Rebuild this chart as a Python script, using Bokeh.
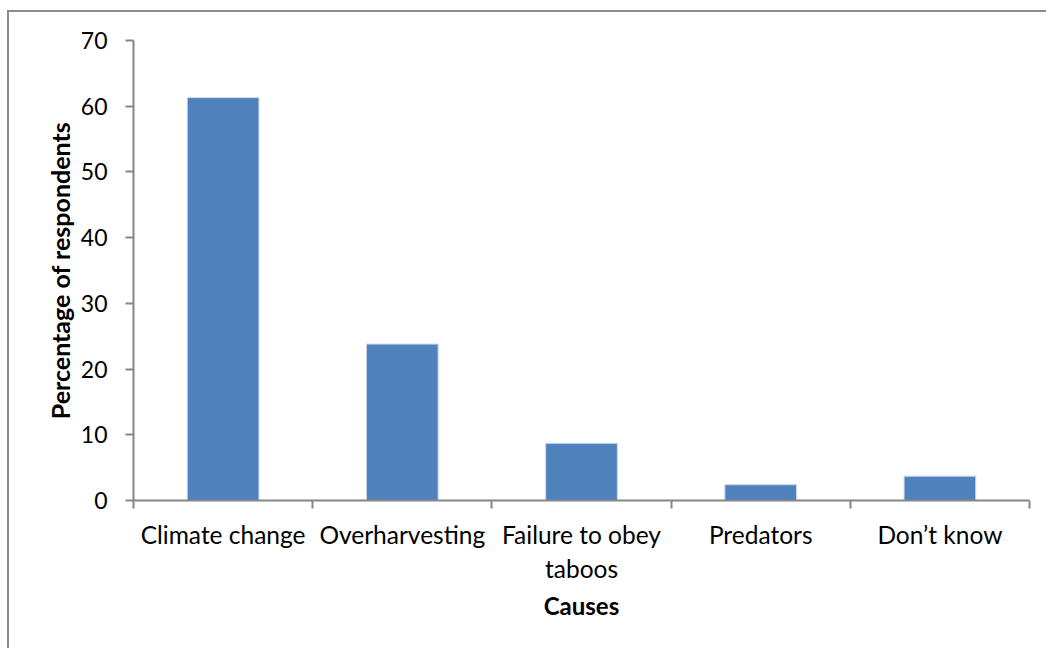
from bokeh.plotting import figure
from bokeh.models import Range1d, FixedTicker
from bokeh.embed import file_html
from bokeh.resources import INLINE

# Perceived causes and share of respondents (%)
causes = ["Climate change", "Overharvesting", "Failure to obey\ntaboos", "Predators", "Don\u2019t know"]
percent = [61.3, 23.8, 8.7, 2.4, 3.7]
y_ticks = [0, 10, 20, 30, 40, 50, 60, 70]

FONT = "Lato"
AXIS_GREY = "#868686"

centers = [i + 0.5 for i in range(len(causes))]
edges = list(range(len(causes) + 1))

p = figure(
    width=1039, height=638,
    x_range=Range1d(0, len(causes)), y_range=Range1d(0, 70),
    output_backend="svg", toolbar_location=None,
    min_border_left=124, min_border_right=19, min_border_top=28, min_border_bottom=150,
)
# chart area border (top and left edges fall inside the page)
p.styles = {
    "margin-left": "7px", "margin-top": "10px",
    "border-left": "2px solid #8C8C8C", "border-top": "2px solid #8C8C8C",
}

p.vbar(x=centers, top=percent, width=0.4, bottom=0,
       fill_color="#4F81BD", line_color="#C9D8EC", line_width=1)

p.xgrid.visible = False
p.ygrid.visible = False
p.outline_line_color = None
p.background_fill_color = "white"
p.border_fill_color = "white"

# x axis: category labels under the bars, ticks between categories
xa = p.xaxis[0]
xa.ticker = FixedTicker(ticks=centers, minor_ticks=edges)
xa.major_label_overrides = {c: lbl for c, lbl in zip(centers, causes)}
xa.major_tick_line_color = None
xa.minor_tick_in = 0
xa.minor_tick_out = 8
xa.minor_tick_line_color = AXIS_GREY
xa.minor_tick_line_width = 2
xa.axis_line_color = AXIS_GREY
xa.axis_line_width = 2
xa.major_label_text_font = FONT
xa.major_label_text_font_size = "24.5px"
xa.major_label_text_color = "black"
xa.major_label_standoff = 11
xa.axis_label = "Causes"
xa.axis_label_text_font = FONT
xa.axis_label_text_font_size = "24px"
xa.axis_label_text_font_style = "bold"
xa.axis_label_text_color = "black"
xa.axis_label_standoff = 5

ya = p.yaxis[0]
ya.ticker = FixedTicker(ticks=y_ticks)
ya.minor_tick_line_color = None
ya.major_tick_in = 0
ya.major_tick_out = 8
ya.major_tick_line_color = AXIS_GREY
ya.major_tick_line_width = 2
ya.axis_line_color = AXIS_GREY
ya.axis_line_width = 2
ya.major_label_text_font = FONT
ya.major_label_text_font_size = "23px"
ya.major_label_text_color = "black"
ya.major_label_standoff = 18
ya.axis_label = "Percentage of respondents"
ya.axis_label_text_font = FONT
ya.axis_label_text_font_size = "25px"
ya.axis_label_text_font_style = "bold"
ya.axis_label_text_color = "black"
ya.axis_label_standoff = 3

open("out.html", "w").write(file_html(p, INLINE))
